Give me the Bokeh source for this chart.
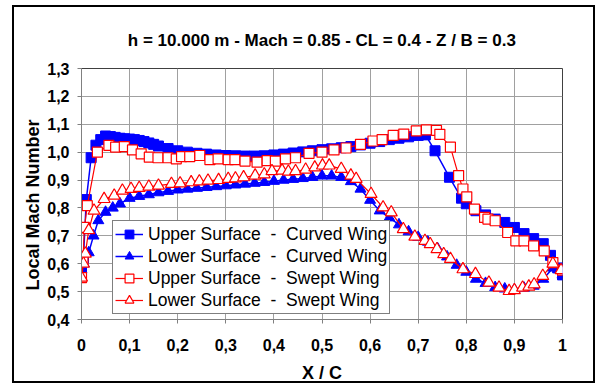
from bokeh.plotting import figure
from bokeh.models import Range1d, FixedTicker, Title
from bokeh.embed import file_html
from bokeh.resources import INLINE

TITLE = "h = 10.000 m - Mach = 0.85 - CL = 0.4 - Z / B = 0.3"
X_LABEL = "X / C"
Y_LABEL = "Local Mach Number"

x_ticks = [0.0, 0.1, 0.2, 0.3, 0.4, 0.5, 0.6, 0.7, 0.8, 0.9, 1.0]
x_tick_labels = ["0", "0,1", "0,2", "0,3", "0,4", "0,5", "0,6", "0,7", "0,8", "0,9", "1"]
y_ticks = [0.4, 0.5, 0.6, 0.7, 0.8, 0.9, 1.0, 1.1, 1.2, 1.3]
y_tick_labels = ["0,4", "0,5", "0,6", "0,7", "0,8", "0,9", "1,0", "1,1", "1,2", "1,3"]

series_names = [
    "Upper Surface  -  Curved Wing",
    "Lower Surface  -  Curved Wing",
    "Upper Surface  -  Swept Wing",
    "Lower Surface  -  Swept Wing",
]

# Upper surface - curved wing
cu_x = [0.0, 0.004, 0.01, 0.02, 0.03, 0.04, 0.05, 0.06, 0.07, 0.08, 0.09, 0.10, 0.11, 0.12, 0.13,
        0.14, 0.15, 0.16, 0.18, 0.20, 0.22, 0.24, 0.26, 0.28, 0.30, 0.32, 0.34, 0.36, 0.38, 0.40,
        0.42, 0.44, 0.46, 0.48, 0.50, 0.52, 0.54, 0.56, 0.58, 0.60, 0.62, 0.64, 0.66, 0.68, 0.70,
        0.715, 0.735, 0.765, 0.79, 0.80, 0.82, 0.84, 0.86, 0.88, 0.90, 0.92, 0.94, 0.96, 0.975,
        0.99, 1.0]
cu_m = [0.585, 0.62, 0.83, 0.98, 1.025, 1.045, 1.058, 1.056, 1.053, 1.05, 1.048, 1.047, 1.045,
        1.042, 1.038, 1.033, 1.028, 1.022, 1.013, 1.005, 1.0, 0.996, 0.993, 0.99, 0.988, 0.987,
        0.986, 0.986, 0.987, 0.99, 0.993, 0.997, 1.001, 1.005, 1.009, 1.012, 1.016, 1.02, 1.026,
        1.032, 1.038, 1.045, 1.05, 1.055, 1.06, 1.062, 1.005, 0.91, 0.835, 0.815, 0.79, 0.775,
        0.76, 0.748, 0.73, 0.708, 0.69, 0.672, 0.63, 0.585, 0.56]

# Lower surface - curved wing
cl_x = [0.0, 0.005, 0.015, 0.025, 0.035, 0.05, 0.065, 0.08, 0.10, 0.12, 0.14, 0.16, 0.18, 0.20,
        0.22, 0.24, 0.26, 0.28, 0.30, 0.32, 0.34, 0.36, 0.38, 0.40, 0.42, 0.44, 0.46, 0.48, 0.50,
        0.52, 0.54, 0.56, 0.58, 0.60, 0.62, 0.64, 0.66, 0.68, 0.70, 0.72, 0.74, 0.76, 0.78, 0.80,
        0.82, 0.84, 0.86, 0.88, 0.90, 0.92, 0.94, 0.96, 0.98, 1.0]
cl_m = [0.58, 0.6, 0.64, 0.7, 0.755, 0.785, 0.8, 0.815, 0.835, 0.842, 0.848, 0.855, 0.86, 0.865,
        0.868, 0.871, 0.874, 0.877, 0.88, 0.883, 0.886, 0.889, 0.892, 0.896, 0.9, 0.903, 0.906,
        0.91, 0.915, 0.915, 0.91, 0.895, 0.868, 0.828, 0.79, 0.765, 0.74, 0.715, 0.695, 0.678,
        0.655, 0.625, 0.595, 0.57, 0.545, 0.53, 0.515, 0.51, 0.507, 0.513, 0.52, 0.545, 0.585,
        0.56]

# Upper surface - swept wing
su_x = [0.0, 0.003, 0.006, 0.012, 0.033, 0.057, 0.071, 0.089, 0.106, 0.124, 0.141, 0.159, 0.18,
        0.197, 0.208, 0.225, 0.246, 0.267, 0.284, 0.305, 0.319, 0.34, 0.365, 0.386, 0.403, 0.424,
        0.445, 0.473, 0.5, 0.525, 0.55, 0.58, 0.606, 0.625, 0.648, 0.67, 0.696, 0.717, 0.738,
        0.745, 0.767, 0.784, 0.793, 0.801, 0.817, 0.838, 0.845, 0.86, 0.886, 0.903, 0.92, 0.94,
        0.962, 0.98, 1.0]
su_m = [0.55, 0.61, 0.73, 0.808, 1.0, 1.024, 1.018, 1.02, 1.008, 0.994, 0.982, 0.98, 0.98, 0.976,
        0.984, 0.984, 0.988, 0.973, 0.976, 0.973, 0.973, 0.968, 0.964, 0.97, 0.968, 0.976, 0.98,
        0.996, 1.0, 1.008, 1.015, 1.028, 1.04, 1.045, 1.06, 1.065, 1.076, 1.08, 1.078, 1.064,
        1.018, 0.916, 0.868, 0.84, 0.796, 0.766, 0.76, 0.754, 0.712, 0.682, 0.682, 0.664, 0.646,
        0.604, 0.577]

# Lower surface - swept wing
sl_x = [0.0, 0.004, 0.008, 0.015, 0.026, 0.047, 0.068, 0.085, 0.103, 0.12, 0.14, 0.16, 0.187,
        0.205, 0.228, 0.245, 0.263, 0.285, 0.305, 0.32, 0.337, 0.361, 0.38, 0.396, 0.417, 0.43,
        0.445, 0.466, 0.485, 0.501, 0.515, 0.54, 0.56, 0.571, 0.602, 0.627, 0.644, 0.669, 0.693,
        0.714, 0.725, 0.739, 0.753, 0.767, 0.793, 0.819, 0.847, 0.868, 0.889, 0.9, 0.917, 0.93,
        0.941, 0.959, 0.98, 0.997]
sl_m = [0.55, 0.6, 0.636, 0.72, 0.79, 0.832, 0.844, 0.862, 0.868, 0.872, 0.876, 0.88, 0.886,
        0.888, 0.892, 0.895, 0.898, 0.9, 0.904, 0.906, 0.91, 0.916, 0.92, 0.932, 0.934, 0.93,
        0.932, 0.937, 0.945, 0.952, 0.952, 0.94, 0.916, 0.904, 0.85, 0.802, 0.784, 0.724, 0.697,
        0.682, 0.67, 0.652, 0.634, 0.617, 0.58, 0.563, 0.532, 0.514, 0.502, 0.505, 0.514, 0.518,
        0.526, 0.556, 0.6, 0.577]

FONT = "Liberation Sans"
BLUE = "#0000FF"
RED = "#FF0000"

p = figure(width=579, height=374, output_backend="svg", toolbar_location=None,
           x_range=Range1d(0, 1), y_range=Range1d(0.4, 1.3),
           min_border_left=67, min_border_right=35, min_border_top=61, min_border_bottom=62,
           title=None,
           styles={"border": "2px solid black", "box-sizing": "content-box",
                   "margin-left": "12px", "margin-top": "5px"})

# small spacer between title and plot frame, then the title itself
p.add_layout(Title(text=" ", text_font_size="2px"), "above")
p.add_layout(Title(text=TITLE, align="center", text_font=FONT, text_font_size="17px",
                   text_font_style="bold", text_color="black"), "above")

p.background_fill_color = "white"
p.border_fill_color = "white"
p.outline_line_color = "#404040"
p.outline_line_width = 1

for g in (p.xgrid, p.ygrid):
    g.grid_line_color = "#A0A0A0"
    g.grid_line_width = 1
p.xgrid.ticker = FixedTicker(ticks=x_ticks)
p.ygrid.ticker = FixedTicker(ticks=y_ticks)

p.xaxis.ticker = FixedTicker(ticks=x_ticks)
p.xaxis.major_label_overrides = {t: l for t, l in zip(x_ticks, x_tick_labels)}
p.yaxis.ticker = FixedTicker(ticks=y_ticks)
p.yaxis.major_label_overrides = {t: l for t, l in zip(y_ticks, y_tick_labels)}

for ax in (p.xaxis, p.yaxis):
    ax.axis_line_color = "#808080"
    ax.major_tick_line_color = "#808080"
    ax.minor_tick_line_color = None
    ax.major_tick_in = 0
    ax.major_tick_out = 4
    ax.major_label_text_font = FONT
    ax.major_label_text_font_size = "16px"
    ax.major_label_text_font_style = "bold"
    ax.major_label_text_color = "black"
    ax.axis_label_text_font = FONT
    ax.axis_label_text_font_size = "18px"
    ax.axis_label_text_font_style = "bold"
    ax.axis_label_text_color = "black"

p.xaxis.axis_label = X_LABEL
p.xaxis.major_label_standoff = 15
p.xaxis.axis_label_standoff = 9
p.yaxis.major_label_standoff = 8

# y axis title, placed slightly below centre like the original
p.add_layout(Title(text=Y_LABEL, align="left", offset=29, standoff=4, text_font=FONT,
                   text_font_size="18px", text_font_style="bold", text_color="black"), "left")

# Curved wing - upper
p.line(cu_x, cu_m, line_color=BLUE, line_width=1.5, legend_label=series_names[0])
p.scatter(cu_x, cu_m, marker="square", size=10, fill_color=BLUE, line_color=BLUE,
          legend_label=series_names[0])
# Curved wing - lower
p.line(cl_x, cl_m, line_color=BLUE, line_width=1.5, legend_label=series_names[1])
p.scatter(cl_x, cl_m, marker="triangle", size=11, fill_color=BLUE, line_color=BLUE,
          legend_label=series_names[1])
# Swept wing - upper
p.line(su_x, su_m, line_color=RED, line_width=1.2, legend_label=series_names[2])
p.scatter(su_x, su_m, marker="square", size=10, fill_color="white", line_color=RED,
          line_width=1.2, legend_label=series_names[2])
# Swept wing - lower
p.line(sl_x, sl_m, line_color=RED, line_width=1.2, legend_label=series_names[3])
p.scatter(sl_x, sl_m, marker="triangle", size=12, fill_color="white", line_color=RED,
          line_width=1.2, legend_label=series_names[3])

lg = p.legend[0]
lg.location = (31, 5)
lg.border_line_color = "black"
lg.border_line_width = 1
lg.background_fill_color = "white"
lg.background_fill_alpha = 1
lg.label_text_font = FONT
lg.label_text_font_size = "17.5px"
lg.label_text_color = "black"
lg.glyph_width = 28
lg.glyph_height = 22
lg.label_height = 22
lg.label_standoff = 5
lg.spacing = 0
lg.padding = 2
lg.margin = 0

open("out.html", "w").write(file_html(p, INLINE))
